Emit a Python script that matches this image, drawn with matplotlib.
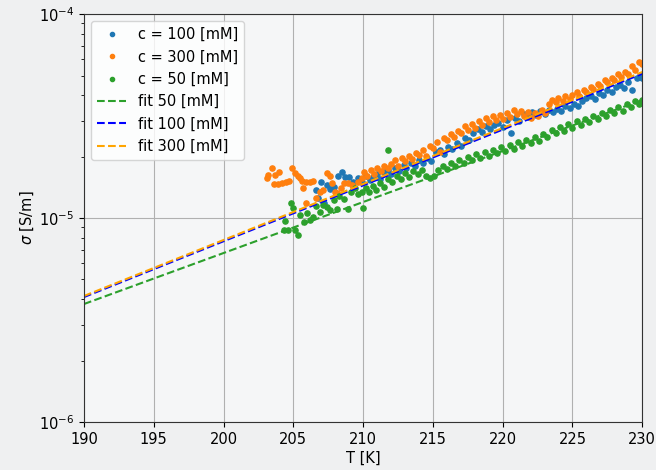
import numpy as np
import matplotlib
matplotlib.use("Agg")
import matplotlib.pyplot as plt

# ---------------- data (sigma in units of 1e-5 S/m) ----------------
T_300 = [203.1, 203.2, 203.5, 203.6, 203.7, 203.9, 204.0, 204.2, 204.5, 204.7,
         204.9, 205.1, 205.3, 205.5, 205.6, 205.7, 205.9, 205.9, 206.2, 206.4,
         206.6, 206.9, 207.1, 207.4, 207.6, 207.8, 208.0, 208.1, 208.4, 208.6,
         208.9, 209.2, 209.6, 209.9, 210.1, 210.3, 210.6, 210.8, 211.0, 211.3,
         211.5, 211.8, 212.0, 212.3, 212.5, 212.8, 213.0, 213.3, 213.5, 213.8,
         214.0, 214.3, 214.5, 214.8, 215.0, 215.3, 215.5, 215.8, 216.0, 216.3,
         216.5, 216.8, 217.0, 217.3, 217.5, 217.8, 218.0, 218.3, 218.5, 218.8,
         219.0, 219.3, 219.5, 219.8, 220.0, 220.3, 220.5, 220.8, 221.0, 221.3,
         221.5, 221.8, 222.0, 222.3, 222.5, 222.8, 223.0, 223.3, 223.5, 223.8,
         224.0, 224.3, 224.5, 224.8, 225.0, 225.3, 225.5, 225.8, 226.0, 226.3,
         226.5, 226.8, 227.0, 227.3, 227.5, 227.8, 228.0, 228.3, 228.5, 228.8,
         229.0, 229.3, 229.5, 229.8, 230.0]
S_300 = [1.57, 1.62, 1.76, 1.47, 1.62, 1.47, 1.68, 1.49, 1.50, 1.52,
         1.76, 1.67, 1.60, 1.58, 1.52, 1.40, 1.50, 1.18, 1.50, 1.52,
         1.25, 1.34, 1.38, 1.66, 1.61, 1.48, 1.34, 1.32, 1.40, 1.48,
         1.48, 1.45, 1.50, 1.57, 1.68, 1.61, 1.72, 1.64, 1.76, 1.70,
         1.80, 1.76, 1.84, 1.92, 1.80, 1.97, 1.90, 2.01, 1.94, 2.08,
         2.04, 2.15, 2.01, 2.25, 2.20, 2.36, 2.11, 2.47, 2.41, 2.58,
         2.50, 2.67, 2.61, 2.83, 2.70, 2.89, 2.76, 2.99, 2.86, 3.09,
         2.95, 3.16, 3.02, 3.20, 3.05, 3.27, 3.12, 3.38, 3.23, 3.35,
         3.16, 3.31, 3.09, 3.27, 3.16, 3.38, 3.27, 3.62, 3.79, 3.70,
         3.87, 3.75, 3.96, 3.83, 4.00, 4.15, 3.96, 4.24, 4.15, 4.39,
         4.29, 4.54, 4.44, 4.75, 4.64, 4.86, 4.75, 5.08, 4.92, 5.19,
         5.08, 5.56, 5.31, 5.82, 5.69]

T_100 = [206.6, 206.8, 207.0, 207.2, 207.4, 207.6, 207.9, 208.2, 208.5, 208.7,
         209.0, 209.3, 209.6, 209.9, 210.2, 210.5, 210.7, 211.0, 211.2, 211.5,
         211.8, 212.0, 212.3, 212.6, 212.9, 213.1, 213.4, 213.7, 214.0, 214.3,
         214.6, 214.9, 215.2, 215.5, 215.8, 216.1, 216.4, 216.7, 217.0, 217.3,
         217.6, 217.9, 218.2, 218.5, 218.8, 219.1, 219.4, 219.7, 220.0, 220.3,
         220.6, 220.9, 221.2, 221.5, 221.8, 222.1, 222.4, 222.7, 223.0, 223.3,
         223.6, 223.9, 224.2, 224.5, 224.8, 225.1, 225.4, 225.7, 226.0, 226.3,
         226.6, 226.9, 227.2, 227.5, 227.8, 228.1, 228.4, 228.7, 229.0, 229.3,
         229.6, 229.9, 230.0]
S_100 = [1.37, 1.25, 1.50, 1.18, 1.45, 1.39, 1.42, 1.61, 1.68, 1.59,
         1.59, 1.50, 1.57, 1.50, 1.61, 1.54, 1.59, 1.64, 1.56, 1.68,
         1.72, 1.64, 1.76, 1.70, 1.82, 1.76, 1.86, 1.80, 1.92, 1.86,
         1.97, 1.90, 2.11, 2.15, 2.06, 2.23, 2.18, 2.33, 2.25, 2.47,
         2.41, 2.61, 2.73, 2.64, 2.83, 2.73, 2.86, 2.92, 2.79, 3.02,
         2.61, 3.09, 2.99, 3.23, 3.12, 3.31, 3.20, 3.35, 3.23, 3.38,
         3.31, 3.42, 3.35, 3.54, 3.46, 3.62, 3.54, 3.75, 3.87, 3.96,
         3.83, 4.10, 4.00, 4.24, 4.15, 4.39, 4.49, 4.34, 4.64, 4.24,
         4.86, 5.02, 4.86]

T_50 = [204.3, 204.4, 204.6, 204.8, 205.0, 205.1, 205.3, 205.5, 205.8, 206.0,
        206.2, 206.4, 206.6, 206.9, 207.1, 207.4, 207.6, 207.9, 208.1, 208.3,
        208.6, 208.9, 209.1, 209.4, 209.6, 209.9, 210.0, 210.2, 210.4, 210.7,
        210.9, 211.2, 211.5, 211.8, 211.8, 212.1, 212.4, 212.7, 213.0, 213.3,
        213.6, 213.9, 214.2, 214.5, 214.8, 215.1, 215.4, 215.7, 216.0, 216.3,
        216.6, 216.9, 217.2, 217.5, 217.8, 218.1, 218.4, 218.7, 219.0, 219.3,
        219.6, 219.9, 220.2, 220.5, 220.8, 221.1, 221.4, 221.7, 222.0, 222.3,
        222.6, 222.9, 223.2, 223.5, 223.8, 224.1, 224.4, 224.7, 225.0, 225.3,
        225.6, 225.9, 226.2, 226.5, 226.8, 227.1, 227.4, 227.7, 228.0, 228.3,
        228.6, 228.9, 229.2, 229.5, 229.8, 230.0]
S_50 = [0.873, 0.967, 0.873, 1.18, 1.12, 0.873, 0.826, 1.03, 0.956, 1.06,
        0.978, 1.01, 1.15, 1.07, 1.16, 1.13, 1.09, 1.22, 1.11, 1.28,
        1.24, 1.11, 1.34, 1.40, 1.31, 1.34, 1.12, 1.40, 1.34, 1.44,
        1.37, 1.49, 1.42, 2.15, 1.55, 1.50, 1.61, 1.55, 1.66, 1.59,
        1.70, 1.64, 1.72, 1.61, 1.57, 1.61, 1.72, 1.80, 1.74, 1.86,
        1.80, 1.92, 1.86, 1.99, 1.92, 2.06, 1.97, 2.11, 2.01, 2.15,
        2.08, 2.23, 2.13, 2.28, 2.18, 2.36, 2.25, 2.41, 2.33, 2.50,
        2.39, 2.58, 2.50, 2.70, 2.61, 2.79, 2.67, 2.89, 2.76, 2.99,
        2.86, 3.05, 2.95, 3.16, 3.05, 3.27, 3.16, 3.38, 3.27, 3.50,
        3.35, 3.62, 3.50, 3.75, 3.62, 3.79]

# fit lines (end points, S/m)
fit_T = [190, 230]
fit_50 = [3.79e-6, 3.79e-5]
fit_100 = [4.10e-6, 5.10e-5]
fit_300 = [4.15e-6, 5.20e-5]

scale = 1e-5

plt.rcParams['font.size'] = 10.5

fig = plt.figure(figsize=(6.56, 4.70), dpi=100)
fig.patch.set_facecolor('#eff0f1')
ax = fig.add_axes([0.128, 0.102, 0.851, 0.868])
ax.set_facecolor('#f5f6f7')

ms = 7.5
ax.plot(T_100, np.array(S_100) * scale, '.', color='C0', ms=ms, label='c = 100 [mM]')
ax.plot(T_300, np.array(S_300) * scale, '.', color='C1', ms=ms, label='c = 300 [mM]')
ax.plot(T_50, np.array(S_50) * scale, '.', color='C2', ms=ms, label='c = 50 [mM]')
ax.plot(fit_T, fit_50, '--', color='C2', lw=1.5, label='fit 50 [mM]')
ax.plot(fit_T, fit_100, '--', color='blue', lw=1.5, label='fit 100 [mM]')
ax.plot(fit_T, fit_300, '--', color='orange', lw=1.5, label='fit 300 [mM]')

ax.set_yscale('log')
ax.set_xlim(190, 230)
ax.set_ylim(1e-6, 1e-4)
ax.set_xticks(np.arange(190, 231, 5))
ax.grid(True, which='major', color='#b0b0b0', lw=0.8)
ax.set_xlabel('T [K]', labelpad=3)
ax.set_ylabel(r'$\sigma$ [S/m]', labelpad=2)
for s in ax.spines.values():
    s.set_color('#333333')
ax.legend(loc='upper left', framealpha=0.8, markerscale=0.8)

fig.savefig('out.png', dpi=100, facecolor=fig.get_facecolor())
